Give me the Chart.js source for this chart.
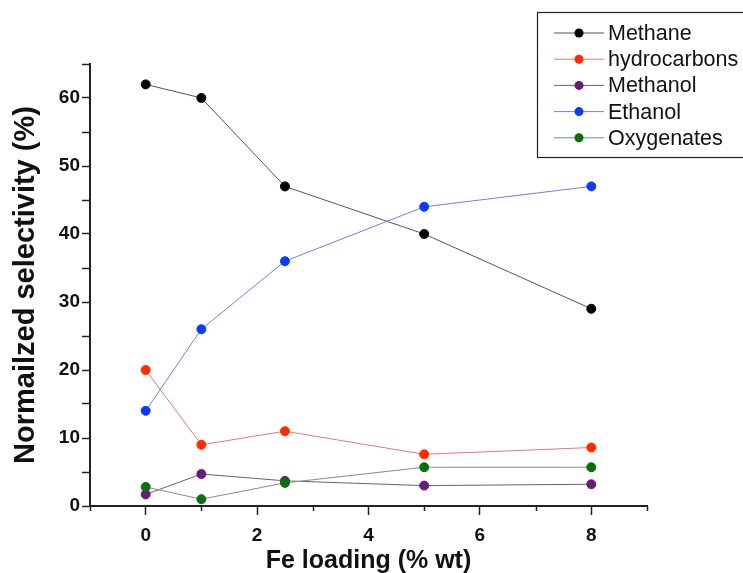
<!DOCTYPE html>
<html>
<head>
<meta charset="utf-8">
<title>Fe loading selectivity</title>
<script src="https://cdn.jsdelivr.net/npm/chart.js@4.4.1/dist/chart.umd.min.js"></script>
<style>
  html, body { margin: 0; padding: 0; background: #fff; }
  #wrap { width: 743px; height: 573px; position: relative; }
</style>
</head>
<body>
<div id="wrap"><canvas id="mycanvas"></canvas></div>
<script>
// Fe loading (% wt) on the x axis
const feLoading = [0, 1, 2.5, 5, 8];

// normalized selectivity (%) per product
const methane      = [62, 60, 47, 40, 29];
const hydrocarbons = [20, 9, 11, 7.6, 8.6];
const methanol     = [1.7, 4.7, 3.7, 3.0, 3.2];
const ethanol      = [14, 26, 36, 44, 47];
const oxygenates   = [2.8, 1.0, 3.4, 5.7, 5.7];

const seriesNames = ["Methane", "hydrocarbons", "Methanol", "Ethanol", "Oxygenates"];

const FONT = "'Liberation Sans', Arial, sans-serif";

function pts(ys) {
  return feLoading.map((x, i) => ({ x: x, y: ys[i] }));
}

function series(label, ys, lineCol, dotCol, order) {
  return {
    label: label,
    data: pts(ys),
    showLine: true,
    borderColor: lineCol,
    borderWidth: 1,
    pointBackgroundColor: dotCol,
    pointBorderColor: dotCol,
    pointBorderWidth: 1,
    pointRadius: 4.5,
    order: order
  };
}

// boxed legend in the top right corner, line - dot - line like the plot marks
const boxLegend = {
  id: 'boxLegend',
  afterDraw(chart) {
    const ctx = chart.ctx;
    ctx.save();
    ctx.strokeStyle = '#222';
    ctx.lineWidth = 1.2;
    ctx.strokeRect(537.5, 12.5, 230, 145);
    ctx.font = "21.5px " + FONT;
    ctx.textBaseline = 'middle';
    ctx.textAlign = 'left';
    chart.data.datasets.forEach((ds, i) => {
      const y = 33 + i * 26.2;
      ctx.strokeStyle = ds.borderColor;
      ctx.lineWidth = 1;
      ctx.beginPath();
      ctx.moveTo(554, y);
      ctx.lineTo(604, y);
      ctx.stroke();
      ctx.fillStyle = ds.pointBackgroundColor;
      ctx.beginPath();
      ctx.arc(579, y, 4.5, 0, Math.PI * 2);
      ctx.fill();
      ctx.fillStyle = '#111';
      ctx.fillText(ds.label, 608, y + 1);
    });
    ctx.restore();
  }
};

// shorter marks for the odd x ticks
const minorTicks = {
  id: 'minorTicks',
  afterDraw(chart) {
    const xs = chart.scales.x;
    const ctx = chart.ctx;
    const y0 = chart.chartArea.bottom;
    ctx.save();
    ctx.strokeStyle = '#222';
    ctx.lineWidth = 1.5;
    [-1, 1, 3, 5, 7, 9].forEach(v => {
      const px = Math.round(xs.getPixelForValue(v)) + 0.5;
      ctx.beginPath();
      ctx.moveTo(px, y0);
      ctx.lineTo(px, y0 + 5);
      ctx.stroke();
    });
    ctx.restore();
  }
};

const ctx = document.getElementById('mycanvas').getContext('2d');

new Chart(ctx, {
  type: 'scatter',
  data: {
    datasets: [
      series(seriesNames[0], methane,      '#555555', '#000000', 5),
      series(seriesNames[1], hydrocarbons, '#e07a7a', '#ff2a00', 4),
      series(seriesNames[2], methanol,     '#666666', '#6a1a78', 3),
      series(seriesNames[3], ethanol,      '#7080e0', '#0a3cff', 2),
      series(seriesNames[4], oxygenates,   '#8a8a8a', '#0a6e0a', 1)
    ]
  },
  options: {
    responsive: true,
    maintainAspectRatio: false,
    animation: false,
    layout: { padding: { top: 64, right: 96, left: 0, bottom: 0 } },
    plugins: {
      legend: { display: false },
      tooltip: { enabled: false }
    },
    scales: {
      x: {
        type: 'linear',
        min: -1,
        max: 9,
        afterFit: (s) => { s.height = 67; },
        border: { display: true, color: '#222', width: 2 },
        grid: {
          drawOnChartArea: false, drawTicks: true, tickLength: 9, tickWidth: 1.5,
          tickColor: (c) => (c.tick && c.tick.value % 2 === 0 && c.tick.value >= 0 && c.tick.value <= 8) ? '#222' : 'rgba(0,0,0,0)'
        },
        ticks: {
          stepSize: 1,
          autoSkip: false,
          maxRotation: 0,
          color: '#111',
          padding: 9,
          font: { family: FONT, size: 19, weight: 'bold' },
          callback: (v) => (v >= 0 && v <= 8 && v % 2 === 0) ? String(v) : ''
        },
        title: {
          display: true,
          text: 'Fe loading (% wt)',
          color: '#111',
          padding: { top: 0, bottom: -3 },
          font: { family: FONT, size: 25, weight: 'bold' }
        }
      },
      y: {
        min: 0,
        max: 65,
        afterFit: (s) => { s.width = 90; },
        border: { display: true, color: '#222', width: 2 },
        grid: { drawOnChartArea: false, drawTicks: true, tickLength: 8, tickColor: '#222', tickWidth: 1.5 },
        ticks: {
          stepSize: 5,
          autoSkip: false,
          color: '#111',
          padding: 2,
          font: { family: FONT, size: 19, weight: 'bold' },
          callback: (v) => (v % 10 === 0) ? String(v) : ''
        },
        title: {
          display: true,
          text: 'Normailzed selectivity (%)',
          color: '#111',
          padding: { top: 9, bottom: 0 },
          font: { family: FONT, size: 29, weight: 'bold' }
        }
      }
    }
  },
  plugins: [boxLegend, minorTicks]
});
</script>
</body>
</html>
